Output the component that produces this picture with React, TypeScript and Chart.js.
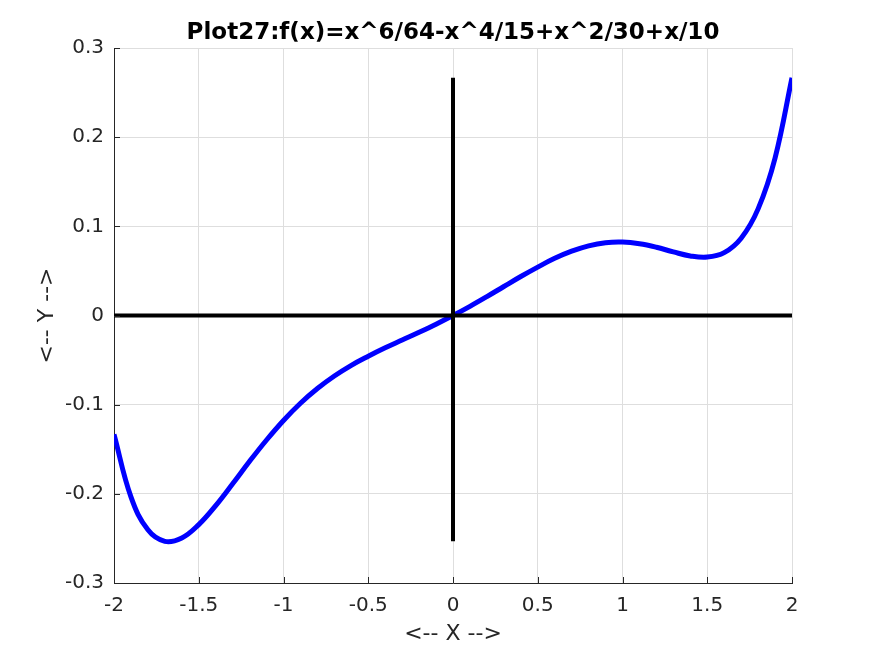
import React, { useEffect, useRef } from "react";
import { Chart, registerables } from "chart.js";

Chart.register(...registerables);

const titleText = "Plot27:f(x)=x^6/64-x^4/15+x^2/30+x/10";
const xLabel = "<-- X -->";
const yLabel = "<-- Y -->";

const xValues = [
  -2.0, -1.9, -1.8, -1.7, -1.6, -1.5, -1.4, -1.3, -1.2, -1.1, -1.0, -0.9, -0.8, -0.7,
  -0.6, -0.5, -0.4, -0.3, -0.2, -0.1, 0.0, 0.1, 0.2, 0.3, 0.4, 0.5, 0.6, 0.7, 0.8, 0.9,
  1.0, 1.1, 1.2, 1.3, 1.4, 1.5, 1.6, 1.7, 1.8, 1.9, 2.0,
];
const yValues = [
  -0.1333, -0.2034, -0.2404, -0.2533, -0.2495, -0.2345, -0.2132, -0.1887, -0.1635, -0.1396,
  -0.1177, -0.0984, -0.0819, -0.0679, -0.0559, -0.0457, -0.0363, -0.0275, -0.0188, -0.0097,
  0.0, 0.0103, 0.0212, 0.0325, 0.0437, 0.0543, 0.0641, 0.0721, 0.0781, 0.0816,
  0.0823, 0.0804, 0.0765, 0.0713, 0.0668, 0.0655, 0.0705, 0.0867, 0.1196, 0.1766, 0.2667,
];
const hAxisX = [-2, 2];
const hAxisY = [0, 0];
const vAxisX = [0, 0];
const vAxisY = [-0.2533, 0.2667];

const xTicks = [-2, -1.5, -1, -0.5, 0, 0.5, 1, 1.5, 2];
const yTicks = [-0.3, -0.2, -0.1, 0, 0.1, 0.2, 0.3];

const fontFamily = "'DejaVu Sans', sans-serif";

const innerTicks = {
  id: "innerTicks",
  afterDraw(chart: any) {
    const ctx = chart.ctx;
    const xs = chart.scales.x;
    const ys = chart.scales.y;
    const area = chart.chartArea;
    ctx.save();
    ctx.strokeStyle = "#262626";
    ctx.lineWidth = 1;
    ctx.beginPath();
    xTicks.forEach((v) => {
      const px = Math.round(xs.getPixelForValue(v)) + 0.5;
      ctx.moveTo(px, area.bottom);
      ctx.lineTo(px, area.bottom - 6);
    });
    yTicks.forEach((v) => {
      const py = Math.round(ys.getPixelForValue(v)) + 0.5;
      ctx.moveTo(area.left, py);
      ctx.lineTo(area.left + 6, py);
    });
    ctx.stroke();
    // title centred over the plot area
    ctx.fillStyle = "#000000";
    ctx.font = `bold 23px ${fontFamily}`;
    ctx.textAlign = "center";
    ctx.textBaseline = "middle";
    ctx.fillText(titleText, (area.left + area.right) / 2, 33);
    ctx.restore();
  },
};

export default function App() {
  const ref = useRef<HTMLCanvasElement | null>(null);
  useEffect(() => {
    if (!ref.current) return;
    const chart = new Chart(ref.current, {
      type: "line",
      data: {
        datasets: [
          {
            data: xValues.map((x, i) => ({ x, y: yValues[i] })),
            borderColor: "#0000ff",
            borderWidth: 5,
            pointRadius: 0,
            tension: 0.4,
            fill: false,
            order: 2,
            borderCapStyle: "butt",
          },
          {
            data: hAxisX.map((x, i) => ({ x, y: hAxisY[i] })),
            borderColor: "#000000",
            borderWidth: 4,
            pointRadius: 0,
            fill: false,
            order: 1,
          },
          {
            data: vAxisX.map((x, i) => ({ x, y: vAxisY[i] })),
            borderColor: "#000000",
            borderWidth: 4,
            pointRadius: 0,
            fill: false,
            order: 1,
          },
        ],
      },
      options: {
        animation: false,
        responsive: false,
        maintainAspectRatio: false,
        layout: { padding: { left: 0, right: 83, top: 48, bottom: 0 } },
        plugins: {
          legend: { display: false },
          tooltip: { enabled: false },
          title: { display: false },
        },
        scales: {
          x: {
            type: "linear",
            min: -2,
            max: 2,
            afterFit: (s: any) => {
              s.height = 73;
            },
            afterBuildTicks: (s: any) => {
              s.ticks = xTicks.map((v) => ({ value: v }));
            },
            ticks: {
              color: "#262626",
              font: { family: fontFamily, size: 20 },
              padding: 11,
              maxRotation: 0,
              autoSkip: false,
              callback: (v: any) => String(v),
            },
            grid: { color: "#dedede", drawTicks: false, lineWidth: 1 },
            border: { color: "#262626", width: 1 },
            title: {
              display: true,
              text: xLabel,
              color: "#262626",
              font: { family: fontFamily, size: 22 },
              padding: { top: 0, bottom: 9 },
            },
          },
          y: {
            type: "linear",
            min: -0.3,
            max: 0.3,
            afterFit: (s: any) => {
              s.width = 114;
            },
            afterBuildTicks: (s: any) => {
              s.ticks = yTicks.map((v) => ({ value: v }));
            },
            ticks: {
              color: "#262626",
              font: { family: fontFamily, size: 20 },
              padding: 10,
              autoSkip: false,
              callback: (v: any) => String(Math.round(v * 10) / 10),
            },
            grid: { color: "#dedede", drawTicks: false, lineWidth: 1 },
            border: { color: "#262626", width: 1 },
            title: {
              display: true,
              text: yLabel,
              color: "#262626",
              font: { family: fontFamily, size: 22 },
              padding: { top: 34, bottom: 0 },
            },
          },
        },
      },
      plugins: [innerTicks],
    } as any);
    return () => chart.destroy();
  }, []);
  return (
    <div style={{ position: "absolute", left: 0, top: 0, width: 875, height: 656, background: "#fff" }}>
      <canvas ref={ref} width={875} height={656} style={{ width: 875, height: 656 }} />
    </div>
  );
}
